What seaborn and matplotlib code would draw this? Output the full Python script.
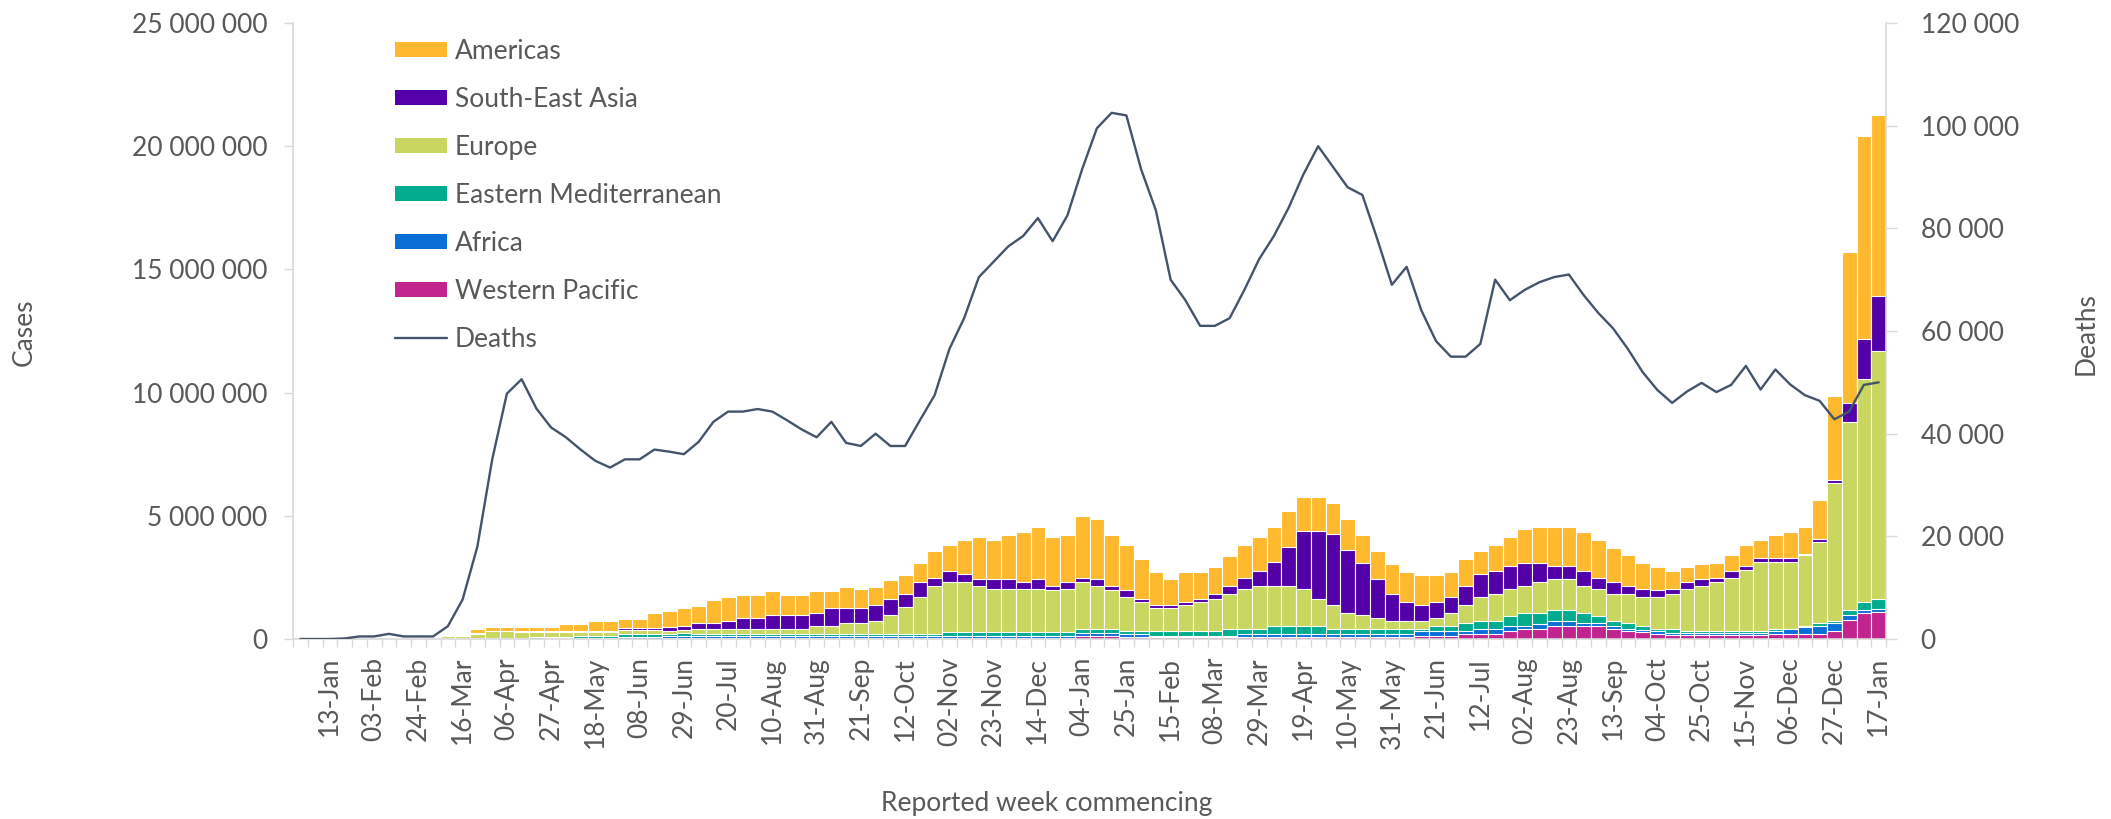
import numpy as np
import matplotlib
matplotlib.use('Agg')
import matplotlib.pyplot as plt
import seaborn as sns
from matplotlib.patches import Patch
from matplotlib.lines import Line2D
from matplotlib.ticker import FuncFormatter, FixedLocator

sns.set_style('white')
plt.rcParams['font.family'] = ['Lato', 'DejaVu Sans']

# weekly cases by WHO region, thousands (30-Dec-2019 .. 17-Jan-2022)
western_pacific = [0.1, 1, 3, 5, 10, 10, 10, 10, 10, 10, 10, 10, 7, 10, 10, 8, 8, 8, 8, 8,
                   10, 10, 20, 20, 20, 22, 25, 25, 30, 30, 30, 30, 30, 30, 30, 30, 30, 30, 30, 30,
                   30, 30, 30, 30, 42, 42, 42, 42, 42, 42, 42, 42, 42, 110, 108, 108, 95, 95, 68, 68,
                   68, 68, 68, 68, 95, 95, 95, 95, 95, 95, 95, 95, 95, 95, 95, 95, 122, 122, 122, 189,
                   203, 216, 311, 419, 419, 528, 528, 528, 528, 392, 338, 284, 203, 176, 176, 176, 176, 176, 176, 176,
                   203, 203, 203, 203, 311, 771, 1055, 1096]
africa = [0, 0, 0, 0, 0, 0, 0, 0, 0, 0, 2, 2, 3, 5, 10, 10, 12, 15, 25, 30,
          40, 45, 65, 70, 70, 80, 100, 95, 95, 100, 95, 95, 95, 95, 95, 95, 95, 95, 95, 95,
          95, 95, 95, 95, 80, 80, 80, 80, 80, 80, 80, 80, 80, 120, 149, 122, 108, 108, 54, 54,
          54, 54, 54, 54, 108, 108, 108, 108, 108, 108, 108, 108, 108, 108, 108, 108, 189, 189, 189, 135,
          216, 203, 216, 122, 203, 216, 216, 122, 122, 149, 81, 81, 135, 54, 68, 68, 68, 68, 68, 68,
          122, 189, 298, 325, 325, 203, 122, 122]
eastern_mediterranean = [0, 0, 0, 0, 0, 0, 0, 1, 2, 5, 15, 15, 20, 25, 35, 40, 45, 50, 60, 65,
                         84, 85, 130, 130, 126, 100, 105, 85, 78, 73, 78, 78, 78, 78, 78, 78, 78, 78, 78, 78,
                         78, 78, 78, 78, 162, 162, 162, 162, 162, 162, 162, 162, 162, 189, 162, 189, 108, 108, 189, 189,
                         189, 189, 189, 298, 216, 216, 338, 338, 338, 338, 216, 216, 216, 216, 216, 216, 108, 216, 216, 311,
                         325, 325, 419, 514, 433, 419, 419, 406, 298, 203, 216, 162, 54, 189, 68, 68, 68, 68, 68, 68,
                         81, 27, 41, 108, 108, 203, 325, 406]
europe = [0, 0, 0, 0, 0, 1, 1, 2, 3, 5, 90, 95, 165, 280, 255, 245, 230, 195, 200, 180,
          135, 125, 150, 140, 135, 130, 135, 216, 216, 216, 216, 216, 216, 216, 216, 338, 325, 433, 433, 541,
          758, 1082, 1515, 1948, 2029, 2029, 1867, 1759, 1759, 1759, 1759, 1705, 1745, 1894, 1732, 1569, 1393, 1190, 960, 960,
          1069, 1177, 1299, 1407, 1623, 1732, 1610, 1610, 1502, 1069, 974, 649, 541, 433, 325, 325, 325, 325, 541, 758,
          974, 1082, 1082, 1096, 1258, 1258, 1258, 1096, 1096, 1082, 1190, 1190, 1326, 1407, 1732, 1840, 2002, 2164, 2489, 2814,
          2719, 2706, 2854, 3301, 5587, 7630, 9050, 10064]
south_east_asia = [0, 0, 2, 0, 0, 0, 15, 0, 0, 0, 2, 2, 50, 15, 10, 12, 15, 40, 30, 40,
                   68, 70, 70, 80, 81, 165, 176, 216, 216, 325, 433, 433, 541, 541, 541, 514, 744, 636, 636, 636,
                   649, 528, 595, 325, 433, 325, 284, 379, 379, 271, 379, 162, 284, 162, 271, 162, 284, 122, 122, 122,
                   122, 122, 230, 325, 433, 595, 974, 1569, 2327, 2760, 2868, 2543, 2110, 1569, 1082, 758, 649, 649, 649, 758,
                   920, 920, 933, 920, 758, 541, 541, 595, 433, 487, 325, 325, 271, 216, 271, 271, 162, 271, 162, 162,
                   162, 162, 54, 122, 108, 771, 1623, 2232]
americas = [0, 0, 0, 5, 15, 20, 0, 15, 15, 15, 40, 40, 147, 165, 180, 185, 190, 192, 286, 276,
            380, 382, 390, 385, 610, 653, 716, 716, 947, 947, 947, 947, 1001, 839, 839, 906, 690, 852, 744, 744,
            785, 798, 785, 1109, 1055, 1380, 1691, 1596, 1813, 2029, 2137, 1975, 1921, 2516, 2462, 2083, 1813, 1637, 1326, 1055,
            1218, 1109, 1096, 1218, 1326, 1380, 1434, 1488, 1380, 1380, 1272, 1272, 1163, 1163, 1218, 1218, 1218, 1109, 1001, 1109,
            947, 1055, 1163, 1380, 1488, 1596, 1596, 1596, 1542, 1380, 1272, 1055, 947, 731, 622, 622, 622, 676, 839, 731,
            947, 1055, 1109, 1583, 3423, 6128, 8238, 7345]
# weekly deaths, thousands
deaths = [0, 0, 0, 0.1, 0.5, 0.5, 1.0, 0.5, 0.5, 0.5, 2.5, 7.7, 18.0, 34.9, 47.8, 50.6, 44.9, 41.2, 39.3, 36.9,
          34.7, 33.4, 35.0, 35.0, 36.9, 36.5, 36.0, 38.4, 42.3, 44.3, 44.3, 44.8, 44.3, 42.6, 40.8, 39.3, 42.3, 38.2, 37.6, 40.0,
          37.6, 37.6, 42.6, 47.5, 56.5, 62.5, 70.5, 73.5, 76.5, 78.5, 82.0, 77.5, 82.5, 91.5, 99.5, 102.5, 102.0, 91.5, 83.5, 70.0,
          66.0, 61.0, 61.0, 62.5, 68.0, 74.0, 78.5, 84.0, 90.5, 96.0, 92.0, 88.0, 86.5, 78.0, 69.0, 72.5, 64.0, 58.0, 55.0, 55.0,
          57.5, 70.0, 66.0, 68.0, 69.5, 70.5, 71.0, 67.0, 63.5, 60.5, 56.5, 52.0, 48.5, 46.0, 48.2, 49.9, 48.1, 49.5, 53.2, 48.6,
          52.5, 49.6, 47.5, 46.4, 42.8, 44.3, 49.5, 50.0]

week_labels = ['13-Jan', '03-Feb', '24-Feb', '16-Mar', '06-Apr', '27-Apr', '18-May', '08-Jun', '29-Jun',
               '20-Jul', '10-Aug', '31-Aug', '21-Sep', '12-Oct', '02-Nov', '23-Nov', '14-Dec', '04-Jan',
               '25-Jan', '15-Feb', '08-Mar', '29-Mar', '19-Apr', '10-May', '31-May', '21-Jun', '12-Jul',
               '02-Aug', '23-Aug', '13-Sep', '04-Oct', '25-Oct', '15-Nov', '06-Dec', '27-Dec', '17-Jan']

# bottom to top
regions = ['Western Pacific', 'Africa', 'Eastern Mediterranean', 'Europe', 'South-East Asia', 'Americas']
series = [western_pacific, africa, eastern_mediterranean, europe, south_east_asia, americas]
colors = ['#C1238F', '#0A6ED7', '#00AB8E', '#C9D65F', '#5400A8', '#FFB92E']
line_color = '#44546A'
text_color = '#595959'
axis_color = '#D9D9D9'
fs = 19

weeks = np.arange(len(deaths))

fig = plt.figure(figsize=(21.11, 8.19), dpi=100)
ax = fig.add_axes([293 / 2111, 1 - 639 / 819, (1886 - 293) / 2111, (639 - 23) / 819])

tops = np.cumsum(np.array(series, dtype=float), axis=0) * 1000
for top, color in reversed(list(zip(tops, colors))):
    sns.barplot(x=weeks, y=top, color=color, saturation=1, width=1.0,
                edgecolor='white', linewidth=0.8, errorbar=None, ax=ax)

ax.set_xlim(-0.5, len(weeks) - 0.5)
ax.set_ylim(0, 25e6)
ax.set_yticks(np.arange(0, 25e6 + 1, 5e6))
ax.yaxis.set_major_formatter(FuncFormatter(lambda v, p: f'{int(v):,}'.replace(',', ' ')))
ax.set_xticks(np.arange(2, len(weeks), 3))
ax.set_xticklabels(week_labels, rotation=90)
ax.xaxis.set_minor_locator(FixedLocator(np.arange(-0.5, len(weeks), 1)))
ax.tick_params(axis='x', which='major', length=0, pad=13, labelsize=fs, labelcolor=text_color)
ax.tick_params(axis='x', which='minor', length=6, width=1, color=axis_color, bottom=True)
ax.tick_params(axis='y', length=6.5, width=1, color=axis_color, pad=12, labelsize=fs,
               labelcolor=text_color, left=True)
ax.set_xlabel('')
ax.set_ylabel('')
for s in ['top', 'right']:
    ax.spines[s].set_visible(False)
for s in ['left', 'bottom']:
    ax.spines[s].set_color(axis_color)
    ax.spines[s].set_linewidth(1.2)

ax2 = ax.twinx()
sns.lineplot(x=weeks, y=np.array(deaths) * 1000, color=line_color, linewidth=1.7, ax=ax2)
ax2.set_ylim(0, 120000)
ax2.set_yticks(np.arange(0, 120001, 20000))
ax2.yaxis.set_major_formatter(FuncFormatter(lambda v, p: f'{int(v):,}'.replace(',', ' ')))
ax2.tick_params(axis='y', length=8, width=1, color=axis_color, pad=17, labelsize=fs,
                labelcolor=text_color, right=True)
ax2.set_ylabel('')
for s in ['top', 'left', 'bottom']:
    ax2.spines[s].set_visible(False)
ax2.spines['right'].set_color(axis_color)
ax2.spines['right'].set_linewidth(1.2)

handles = [Patch(facecolor=c, edgecolor='none') for c in colors[::-1]]
handles.append(Line2D([0], [0], color=line_color, linewidth=1.7))
ax2.legend(handles, regions[::-1] + ['Deaths'], loc='upper left',
           bbox_to_anchor=(395 / 2111, 1 - 39 / 819), bbox_transform=fig.transFigure,
           frameon=False, fontsize=fs, labelcolor=text_color, handlelength=1.97,
           handleheight=0.48, handletextpad=0.3, labelspacing=0.87, borderpad=0, borderaxespad=0)

fig.text(24 / 2111, 1 - 332 / 819, 'Cases', rotation=90, ha='center', va='center',
         fontsize=fs, color=text_color)
fig.text(2086 / 2111, 1 - 334 / 819, 'Deaths', rotation=90, ha='center', va='center',
         fontsize=fs, color=text_color)
fig.text(1047 / 2111, 1 - 804 / 819, 'Reported week commencing', ha='center', va='center',
         fontsize=fs, color=text_color)

fig.savefig('out.png', dpi=100, facecolor='white')
